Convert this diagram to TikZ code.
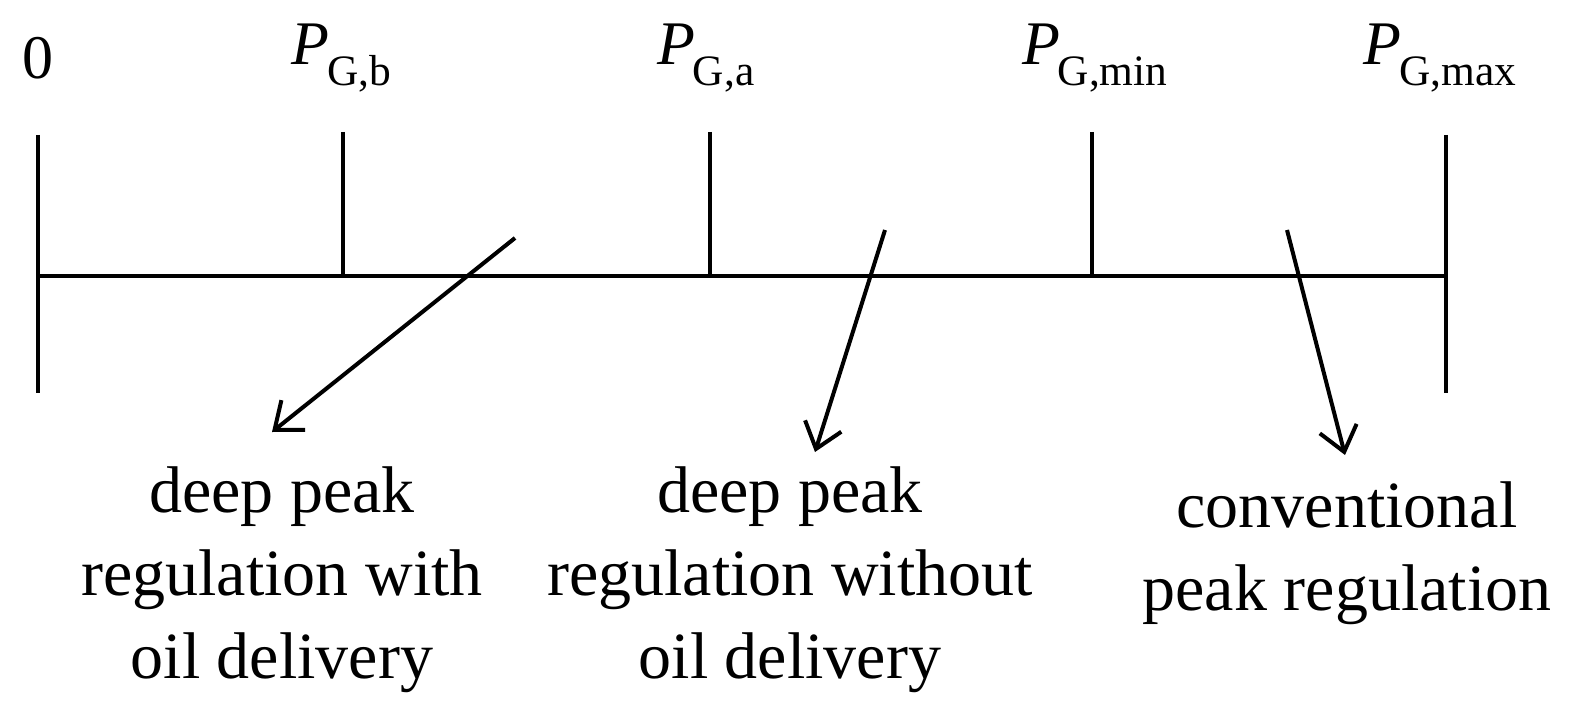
\documentclass[tikz,border=0pt]{standalone}
\usepackage{fontspec}
\setmainfont{Liberation Serif}
\usetikzlibrary{arrows.meta}
\newcommand{\pg}[1]{\textit{P}\textsubscript{\kern-0.05em G,#1}}
\begin{document}
\begin{tikzpicture}[x=1pt,y=-1pt,
  ln/.style={line width=4.5pt},
  ar/.style={line width=4pt,-{Straight Barb[length=24pt,width=38pt,line width=4pt]}},
  lab/.style={font=\fontsize{66}{83}\selectfont,align=center,inner sep=0pt},
  tk/.style={font=\fontsize{62}{70}\selectfont,inner sep=0pt}]
\useasboundingbox (0,0) rectangle (1578,714);
\coordinate (L) at (38,276); \coordinate (R) at (1446,276);
\draw[ln] (L) -- (R);
\draw[ln] (38,135) -- (38,393);
\draw[ln] (1446,135) -- (1446,393);
\draw[ln] (343,132) -- (343,276);
\draw[ln] (710,132) -- (710,276);
\draw[ln] (1092,132) -- (1092,276);
\node[tk] (t0) at (38,58) {0};
\node[tk] (tb) at (342,58) {\pg{b}};
\node[tk] (ta) at (706,58) {\pg{a}};
\node[tk] (tmin) at (1095,58) {\pg{min}};
\node[tk] (tmax) at (1440,58) {\pg{max}};
\node[lab] (A) at (282,580) {deep peak\\regulation with\\oil delivery};
\node[lab] (B) at (790,580) {deep peak\\regulation without\\oil delivery};
\node[lab] (C) at (1347,553) {conventional\\peak regulation};
\coordinate (a1) at (515,238); \coordinate (a2) at (272,432);
\coordinate (b1) at (885,230); \coordinate (b2) at (815,452);
\coordinate (c1) at (1287,230); \coordinate (c2) at (1345,455);
\draw[ar] (a1) -- (a2);
\draw[ar] (b1) -- (b2);
\draw[ar] (c1) -- (c2);
\end{tikzpicture}
\end{document}
